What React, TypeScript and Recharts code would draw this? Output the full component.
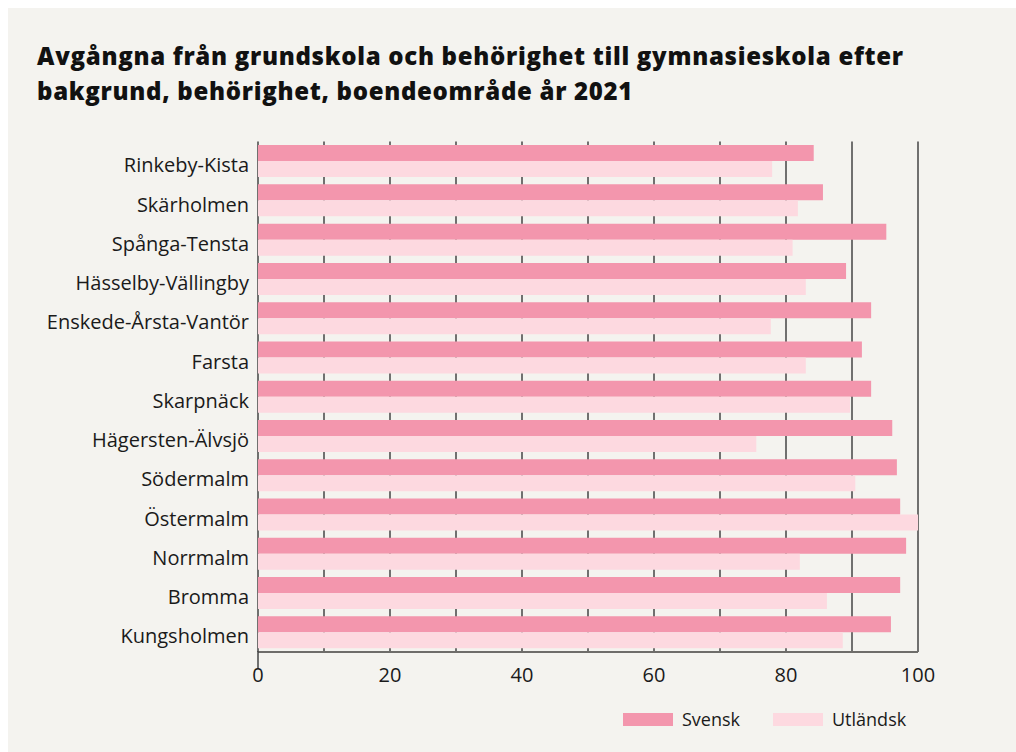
import { BarChart, Bar, XAxis, YAxis, CartesianGrid } from 'recharts';

// områden, uppifrån och ned
const omraden = [
  'Rinkeby-Kista',
  'Skärholmen',
  'Spånga-Tensta',
  'Hässelby-Vällingby',
  'Enskede-Årsta-Vantör',
  'Farsta',
  'Skarpnäck',
  'Hägersten-Älvsjö',
  'Södermalm',
  'Östermalm',
  'Norrmalm',
  'Bromma',
  'Kungsholmen',
];

// behöriga till gymnasieskola, procent
const svensk = [84.2, 85.6, 95.2, 89.1, 92.9, 91.5, 92.9, 96.1, 96.8, 97.3, 98.2, 97.3, 95.9];
const utlandsk = [77.9, 81.8, 81.0, 83.0, 77.7, 83.0, 89.7, 75.5, 90.5, 100, 82.1, 86.2, 88.6];

const xTicks = [0, 10, 20, 30, 40, 50, 60, 70, 80, 90, 100];

const serier = [
  { key: 'Svensk', color: '#f396ad' },
  { key: 'Utländsk', color: '#fdd9e0' },
];

const FONT = '"Open Sans", Lato, sans-serif';

const data = omraden.map((namn, i) => ({
  namn,
  Svensk: svensk[i],
  Utländsk: utlandsk[i],
}));

// bara 0, 20, 40 ... får etikett; linjen vid 0 går ned under axeln
function XTick(props: any) {
  const { x, y, payload } = props;
  const v = payload.value;
  return (
    <g>
      {v === 0 && <line x1={x} x2={x} y1={y - 17} y2={y} stroke="#444" strokeWidth={1.5} />}
      {v % 20 === 0 && (
        <text x={x} y={y} dy="0.71em" textAnchor="middle" fill="#1a1a1a" fontSize={20} fontFamily={FONT}>
          {v}
        </text>
      )}
    </g>
  );
}

function YTick(props: any) {
  const { x, y, payload } = props;
  return (
    <text x={x} y={y + 4} dy="0.355em" textAnchor="end" fill="#1a1a1a" fontSize={20} fontFamily={FONT}>
      {payload.value}
    </text>
  );
}

export default function App() {
  return (
    <div
      style={{
        position: 'fixed',
        left: 8,
        top: 8,
        right: 0,
        bottom: 0,
        background: '#f4f3ef',
        fontFamily: FONT,
        overflow: 'hidden',
      }}
    >
      <div
        style={{
          position: 'absolute',
          left: 29,
          top: 30,
          fontSize: 24,
          fontWeight: 800,
          lineHeight: '35px',
          color: '#111',
          letterSpacing: 0.7,
          whiteSpace: 'nowrap',
        }}
      >
        Avgångna från grundskola och behörighet till gymnasieskola efter
        <br />
        bakgrund, behörighet, boendeområde år 2021
      </div>

      <BarChart
        width={1008}
        height={744}
        layout="vertical"
        data={data}
        margin={{ top: 133.5, right: 98, bottom: 62, left: 10 }}
        barCategoryGap={3.6}
        barGap={0}
        style={{ position: 'absolute', left: 0, top: 0 }}
      >
        <CartesianGrid horizontal={false} stroke="#444" strokeWidth={1.5} />
        <XAxis
          type="number"
          domain={[0, 100]}
          ticks={xTicks}
          interval={0}
          tickLine={false}
          tickMargin={10}
          axisLine={{ stroke: '#6e6d6a', strokeWidth: 2 }}
          tick={<XTick />}
          height={38}
        />
        <YAxis
          type="category"
          dataKey="namn"
          width={240}
          axisLine={false}
          tickLine={false}
          tickMargin={3}
          tick={<YTick />}
        />
        {serier.map((s) => (
          <Bar key={s.key} dataKey={s.key} fill={s.color} isAnimationActive={false} />
        ))}
      </BarChart>

      <div
        style={{
          position: 'absolute',
          left: 615,
          top: 699,
          display: 'flex',
          alignItems: 'center',
          fontSize: 18,
          color: '#1a1a1a',
        }}
      >
        {serier.map((s) => (
          <div key={s.key} style={{ display: 'flex', alignItems: 'center', width: 150 }}>
            <span style={{ display: 'inline-block', width: 50, height: 13, background: s.color, marginRight: 9 }} />
            <span>{s.key}</span>
          </div>
        ))}
      </div>
    </div>
  );
}
